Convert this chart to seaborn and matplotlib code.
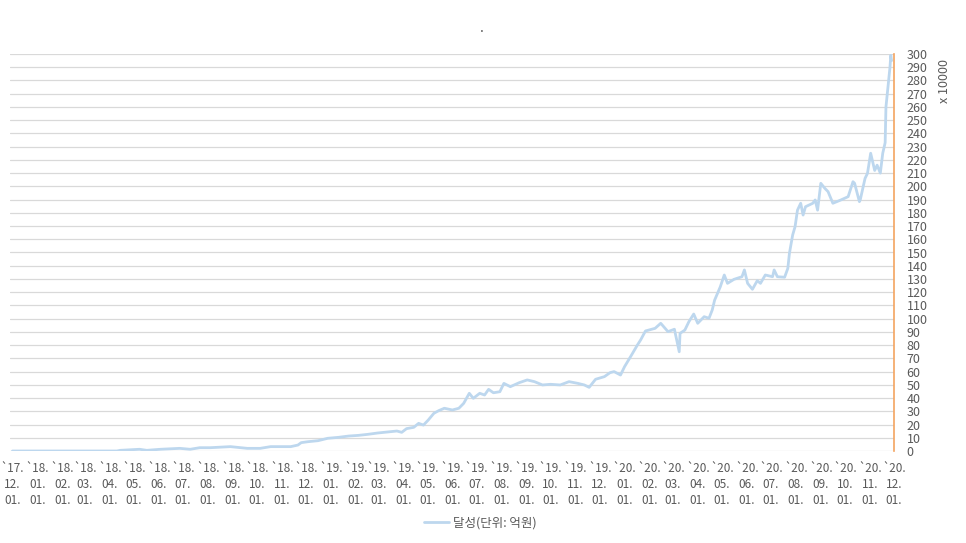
import pandas as pd
import matplotlib
matplotlib.use("Agg")
import matplotlib.pyplot as plt
import seaborn as sns

# 달성 (단위: 억원, 축 x 10000) - 그림에서 읽은 값
dates = [
    "2017-12-01", "2018-02-01", "2018-04-10", "2018-04-14", "2018-05-08",
    "2018-05-17", "2018-06-03", "2018-06-27", "2018-07-10", "2018-07-22",
    "2018-08-04", "2018-08-29", "2018-09-19", "2018-10-05", "2018-10-18",
    "2018-11-12", "2018-11-21", "2018-11-25", "2018-12-03", "2018-12-16",
    "2018-12-28", "2019-01-10", "2019-01-23", "2019-02-04", "2019-02-16",
    "2019-02-28", "2019-03-11", "2019-03-24", "2019-03-30", "2019-04-05",
    "2019-04-14", "2019-04-20", "2019-04-26", "2019-05-02", "2019-05-09",
    "2019-05-15", "2019-05-22", "2019-06-01", "2019-06-09", "2019-06-15",
    "2019-06-22", "2019-06-27", "2019-07-05", "2019-07-11", "2019-07-16",
    "2019-07-22", "2019-07-30", "2019-08-04", "2019-08-12", "2019-08-23",
    "2019-09-02", "2019-09-11", "2019-09-21", "2019-10-01", "2019-10-13",
    "2019-10-24", "2019-11-04", "2019-11-12", "2019-11-18", "2019-11-26",
    "2019-12-07", "2019-12-14", "2019-12-19", "2019-12-27", "2020-01-01",
    "2020-01-09", "2020-01-17", "2020-01-21", "2020-01-27", "2020-02-08",
    "2020-02-15", "2020-02-24", "2020-03-03", "2020-03-09", "2020-03-10",
    "2020-03-16", "2020-03-21", "2020-03-27", "2020-04-01", "2020-04-09",
    "2020-04-15", "2020-04-19", "2020-04-22", "2020-04-29", "2020-05-04",
    "2020-05-08", "2020-05-16", "2020-05-26", "2020-05-29", "2020-06-02",
    "2020-06-08", "2020-06-14", "2020-06-18", "2020-06-24", "2020-07-03",
    "2020-07-05", "2020-07-09", "2020-07-18", "2020-07-22", "2020-07-24",
    "2020-07-28", "2020-07-31", "2020-08-03", "2020-08-07", "2020-08-10",
    "2020-08-13", "2020-08-22", "2020-08-25", "2020-08-28", "2020-09-01",
    "2020-09-06", "2020-09-10", "2020-09-16", "2020-09-26", "2020-10-05",
    "2020-10-11", "2020-10-13", "2020-10-19", "2020-10-20", "2020-10-26",
    "2020-10-29", "2020-11-02", "2020-11-07", "2020-11-10", "2020-11-14",
    "2020-11-17", "2020-11-20", "2020-11-21", "2020-11-24", "2020-11-26",
    "2020-11-27", "2020-11-28",
]
values = [
    0, 0, 0, 0.5, 1.3,
    0.5, 1.3, 2, 1.3, 2.5,
    2.5, 3.3, 2, 2, 3.3,
    3.3, 4.5, 6.3, 7, 7.8,
    9.6, 10.3, 11.3, 11.8, 12.6,
    13.6, 14.3, 15.1, 14.1, 16.9,
    17.9, 20.9, 19.6, 23.4, 28.5,
    30.5, 32.3, 31, 32.3, 36,
    43.6, 39.8, 43.6, 42.3, 46.6,
    44, 44.8, 51.1, 48.6, 51.6,
    53.7, 52.4, 49.9, 50.4, 49.9,
    52.4, 51.1, 49.9, 48.1, 54.2,
    56.2, 59.2, 60, 57.4, 63.7,
    71.8, 80.1, 83.9, 90.7, 92.7,
    96.5, 90.2, 92, 75, 88.9,
    91.4, 97.7, 103.5, 96.5, 101.5,
    100.3, 106.5, 114, 124, 133,
    126.7, 129.7, 131.7, 136.8, 126.7,
    122.2, 128.7, 126.7, 133, 131.7,
    136.8, 131.7, 131.3, 138, 149.4,
    163.2, 169.5, 182, 187.2, 178.3,
    184.6, 187.2, 189.7, 182, 202.3,
    198.5, 196, 187.2, 189.7, 192.2,
    203.5, 202.3, 188.4, 189.7, 206,
    209.8, 225, 212, 216, 210,
    225, 233, 260, 278, 290,
    299, 295,
]
months = pd.date_range("2017-12-01", "2020-12-01", freq="MS")
month_labels = [d.strftime("`%y.\n%m.\n01.") for d in months]
y_ticks = list(range(0, 301, 10))
series_name = "달성(단위: 억원)"

df = pd.DataFrame({"date": pd.to_datetime(dates), series_name: values})

sns.set_style("white")
plt.rcParams["font.family"] = ["Noto Sans CJK KR", "DejaVu Sans"]

fig = plt.figure(figsize=(9.66, 5.43), dpi=100)
ax = fig.add_axes([10 / 966, 1 - 451 / 543, 884 / 966, 397 / 543])

sns.lineplot(data=df, x="date", y=series_name, ax=ax, color="#bdd7ee",
             linewidth=2.0, label=series_name)

ax.set_xlim(pd.Timestamp("2017-11-28"), pd.Timestamp("2020-11-30"))
ax.set_ylim(0, 300)
ax.set_xticks(months)
ax.set_xticklabels(month_labels, fontsize=8.5, color="#595959", linespacing=1.3)
ax.set_yticks(y_ticks)
ax.yaxis.tick_right()
ax.tick_params(axis="y", length=0, pad=9, labelsize=9, labelcolor="#595959")
ax.tick_params(axis="x", length=0, pad=8)
ax.grid(axis="y", color="#d9d9d9", linewidth=0.9)
ax.set_xlabel("")
ax.set_ylabel("")

for side in ["left", "top", "bottom"]:
    ax.spines[side].set_visible(False)
ax.spines["right"].set_color("#f4a460")
ax.spines["right"].set_linewidth(1.2)

fig.text(944 / 966, 1 - 81 / 543, "x 10000", rotation=90, ha="center",
         va="center", fontsize=9, color="#595959")
fig.text(482 / 966, 1 - 28 / 543, ".", ha="center", va="center",
         fontsize=10, color="#595959")

leg = ax.legend(loc="center", bbox_to_anchor=(470 / 884, -72 / 397),
                frameon=False, fontsize=9, handlelength=2.0, handletextpad=0.3)
for t in leg.get_texts():
    t.set_color("#595959")

fig.savefig("out.png", dpi=100)
